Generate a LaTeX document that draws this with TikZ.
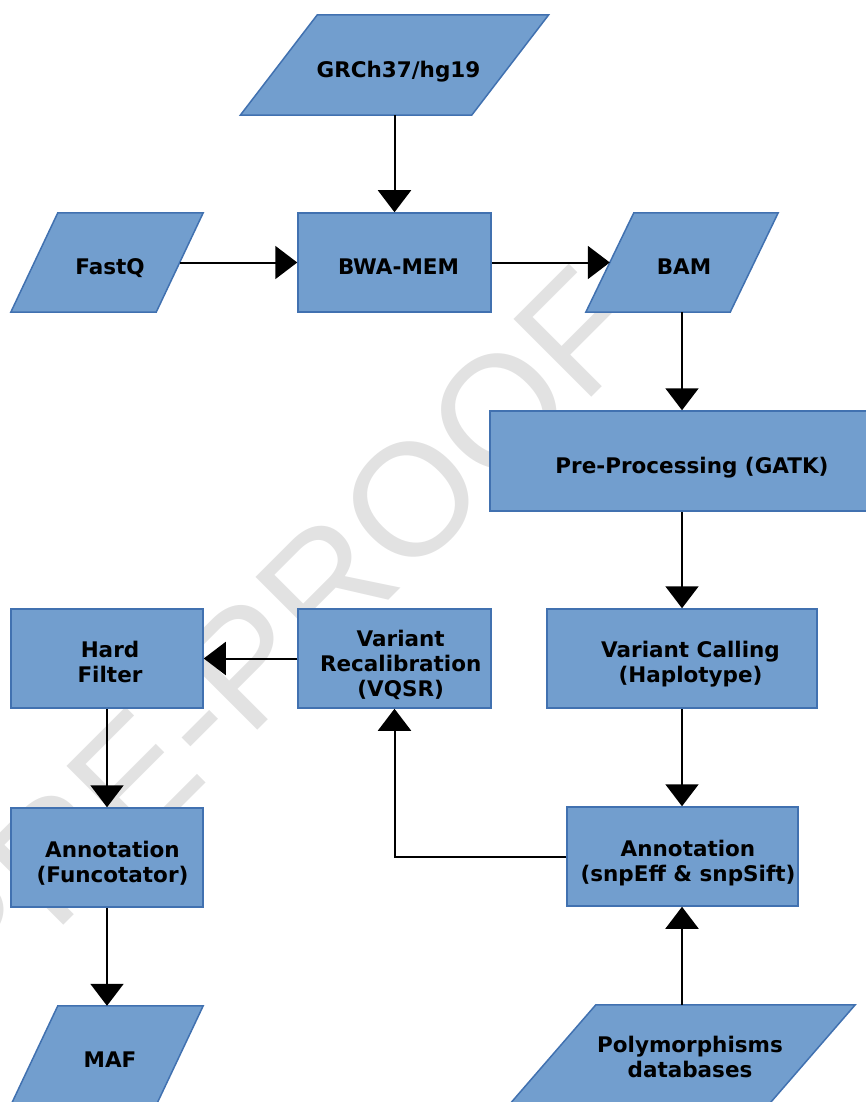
\documentclass[tikz,border=0pt]{standalone}
\usepackage{fontspec}
\setmainfont{DejaVu Sans}
\newfontfamily\wmfont{Liberation Sans}
\usetikzlibrary{arrows.meta,calc}
\definecolor{boxfill}{RGB}{114,158,206}
\definecolor{boxline}{RGB}{65,113,176}
\definecolor{wmgray}{RGB}{226,226,226}
\tikzset{
  box/.style={rectangle, draw=boxline, fill=boxfill, line width=1.5pt, inner sep=0pt},
  slot/.style={rectangle, inner sep=0pt},
  para/.style={draw=boxline, fill=boxfill, line width=1.5pt, line join=miter},
  txt/.style={font=\fontsize{21.5}{25}\selectfont\bfseries, align=center, inner sep=0pt, text=black},
  conn/.style={line width=2pt, draw=black, -{Triangle[width=33pt,length=22pt]}},
  wmark/.style={font=\wmfont\fontsize{160}{160}\selectfont, text=wmgray, inner sep=0pt}
}
\begin{document}
\begin{tikzpicture}[x=1pt,y=-1pt]
\useasboundingbox (0,0) rectangle (866,1102);
\clip (0,0) rectangle (866,1102);

% watermark
\node[wmark, rotate=45] (wm) at (276,635) {PRE-PROOF};

% parallelogram slots (invisible rectangles of the side width)
\node[slot, minimum width=231pt, minimum height=100pt] (grch) at (394.5,65) {};
\node[slot, minimum width=145pt, minimum height=99pt] (fastq) at (107,262.5) {};
\node[slot, minimum width=144pt, minimum height=99pt] (bam) at (682,262.5) {};
\node[slot, minimum width=145pt, minimum height=99pt] (maf) at (107,1055.5) {};
\node[slot, minimum width=259pt, minimum height=100pt] (poly) at (682,1055) {};

\draw[para] ([xshift=38.5pt]grch.north west) -- ([xshift=38.5pt]grch.north east) -- ([xshift=-38.5pt]grch.south east) -- ([xshift=-38.5pt]grch.south west) -- cycle;
\draw[para] ([xshift=23.5pt]fastq.north west) -- ([xshift=23.5pt]fastq.north east) -- ([xshift=-23.5pt]fastq.south east) -- ([xshift=-23.5pt]fastq.south west) -- cycle;
\draw[para] ([xshift=24pt]bam.north west) -- ([xshift=24pt]bam.north east) -- ([xshift=-24pt]bam.south east) -- ([xshift=-24pt]bam.south west) -- cycle;
\draw[para] ([xshift=23.5pt]maf.north west) -- ([xshift=23.5pt]maf.north east) -- ([xshift=-23.5pt]maf.south east) -- ([xshift=-23.5pt]maf.south west) -- cycle;
\draw[para] ([xshift=43.5pt]poly.north west) -- ([xshift=43.5pt]poly.north east) -- ([xshift=-43.5pt]poly.south east) -- ([xshift=-43.5pt]poly.south west) -- cycle;

% rectangles
\node[box, minimum width=193pt, minimum height=99pt] (bwa) at (394.5,262.5) {};
\node[box, minimum width=396pt, minimum height=100pt] (pre) at (688,461) {};
\node[box, minimum width=270pt, minimum height=99pt] (vc) at (682,658.5) {};
\node[box, minimum width=193pt, minimum height=99pt] (vqsr) at (394.5,658.5) {};
\node[box, minimum width=192pt, minimum height=99pt] (hard) at (107,658.5) {};
\node[box, minimum width=231pt, minimum height=99pt] (annS) at (682.5,856.5) {};
\node[box, minimum width=192pt, minimum height=99pt] (annF) at (107,857.5) {};

% texts
\node[txt, anchor=base] (grch-t) at (398.5,78) {GRCh37/hg19};
\node[txt, anchor=base] (fastq-t) at (110,274) {FastQ};
\node[txt, anchor=base] (bwa-t) at (398.5,274) {BWA-MEM};
\node[txt, anchor=base] (bam-t) at (684,274) {BAM};
\node[txt, anchor=base] (pre-t) at (692,473) {Pre-Processing (GATK)};
\node[txt] (vc-t) at (690.5,664.6) {Variant Calling\\(Haplotype)};
\node[txt] (vqsr-t) at (400.7,664.6) {Variant\\Recalibration\\(VQSR)};
\node[txt] (hard-t) at (110,661.9) {Hard\\Filter};
\node[txt] (annS-t) at (688,862.6) {Annotation\\(snpEff \& snpSift)};
\node[txt] (annF-t) at (112.5,862.8) {Annotation\\(Funcotator)};
\node[txt, anchor=base] (maf-t) at (110,1067) {MAF};
\node[txt] (poly-t) at (690,1056.9) {Polymorphisms\\databases};

% connectors
\draw[conn] (grch.south) -- (grch.south |- bwa.north);
\draw[conn] (fastq) -- (bwa);
\draw[conn] (bwa) -- (bam);
\draw[conn] (bam.south) -- (bam.south |- pre.north);
\draw[conn] (vc.north |- pre.south) -- (vc.north);
\draw[conn] (vc.south) -- (vc.south |- annS.north);
\draw[conn] (annS.west) -| (vqsr.south);
\draw[conn] (vqsr) -- (hard);
\draw[conn] (hard) -- (annF);
\draw[conn] (annF.south) -- (annF.south |- maf.north);
\draw[conn] (poly.north) -- (poly.north |- annS.south);
\end{tikzpicture}
\end{document}
